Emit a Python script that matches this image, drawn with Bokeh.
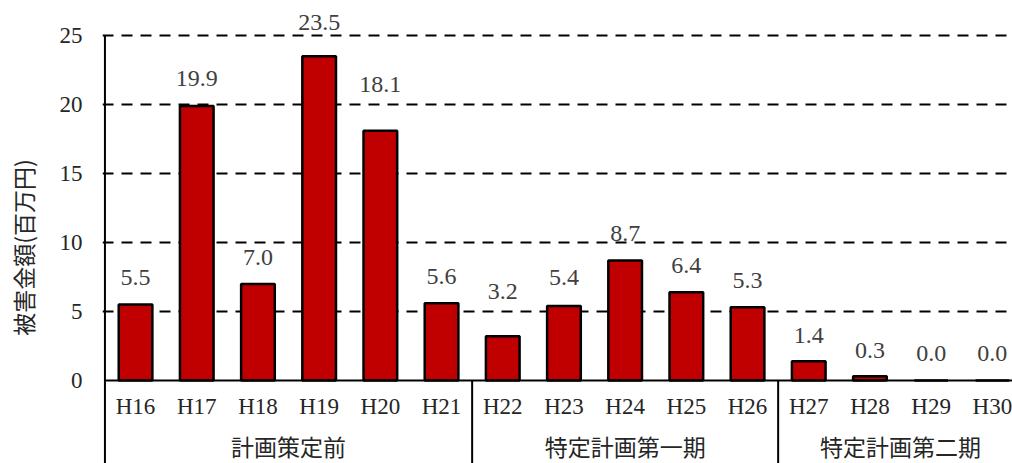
import math
from bokeh.plotting import figure
from bokeh.layouts import row
from bokeh.models import FixedTicker, Range1d, ColumnDataSource
from bokeh.core.properties import value
from bokeh.embed import file_html
from bokeh.resources import INLINE

# ---- data ----
years = ["H16", "H17", "H18", "H19", "H20", "H21", "H22", "H23", "H24", "H25",
         "H26", "H27", "H28", "H29", "H30"]
damage = [5.5, 19.9, 7.0, 23.5, 18.1, 5.6, 3.2, 5.4, 8.7, 6.4, 5.3, 1.4, 0.3, 0.0, 0.0]
groups = ["計画策定前", "特定計画第一期", "特定計画第二期"]
group_sizes = [6, 5, 4]
y_ticks = [0, 5, 10, 15, 20, 25]
y_label = "被害金額(百万円)"

# ---- layout / style ----
W, H = 1012, 463
title_w = 45             # width of the strip holding the y-axis title
title_cy = 247           # pixel row of the y-axis title centre
px_unit = 13.8           # pixels per million yen
cat_px = 61.2            # pixels per category
x_pad = 0.04             # categories of room left of the axis line
left_b = 102 - title_w
zero_px = 380            # pixel row of value 0
label_dy = [27, 27, 26, 34, 46, 27, 45, 28, 27, 27, 27, 26, 26, 27, 27]  # px above bar
main_w = W - title_w
frame_w = main_w - left_b
frame_h = H
y_end = zero_px / px_unit
y_start = y_end - frame_h / px_unit
x_start = -x_pad
x_end = x_start + frame_w / cat_px
cat_label_y = -1.92
group_label_y = -4.72

# ---- y-axis title strip ----
t = figure(width=title_w, height=H, output_backend="svg", toolbar_location=None,
           x_range=Range1d(0, title_w), y_range=Range1d(0, H),
           x_axis_location=None, y_axis_location=None,
           min_border_left=0, min_border_right=0, min_border_top=0, min_border_bottom=0)
t.outline_line_color = None
t.grid.visible = False
t.text(x=[title_w / 2], y=[H - title_cy], text=[y_label], angle=math.pi / 2,
       text_align="center", text_baseline="middle",
       text_font=value("Noto Sans CJK JP"), text_font_size="23px", text_color="#262626")

# ---- main chart ----
xs = [i + 0.5 for i in range(len(years))]
src = ColumnDataSource(dict(x=xs, y=damage, lab=[f"{v:.1f}" for v in damage],
                            yr=years, ly=[cat_label_y] * len(xs),
                            dy=[-d for d in label_dy]))

p = figure(width=main_w, height=H, output_backend="svg", toolbar_location=None,
           x_range=Range1d(x_start, x_end), y_range=Range1d(y_start, y_end),
           x_axis_location=None, min_border_left=left_b, min_border_top=0,
           min_border_right=0, min_border_bottom=0)
p.outline_line_color = None
p.background_fill_color = "white"
p.border_fill_color = "white"
p.xgrid.visible = False

p.ygrid.ticker = FixedTicker(ticks=[v for v in y_ticks if v > 0])
p.ygrid.grid_line_color = "black"
p.ygrid.grid_line_width = 2
p.ygrid.grid_line_dash = "11 8"

ax = p.yaxis[0]
ax.ticker = FixedTicker(ticks=y_ticks)
ax.major_tick_line_color = None
ax.minor_tick_line_color = None
ax.axis_line_color = None
ax.major_label_text_font = "Liberation Serif"
ax.major_label_text_font_size = "23px"
ax.major_label_text_color = "#262626"
ax.major_label_standoff = 14

# y axis line (from top tick down to bottom of chart)
p.segment(x0=[0], y0=[max(y_ticks)], x1=[0], y1=[y_start], line_color="black", line_width=2)

p.vbar(x="x", top="y", bottom=0, width=0.55, source=src,
       fill_color="#C00000", line_color="black", line_width=2.5)

# baseline
p.segment(x0=[0], y0=[0], x1=[x_end], y1=[0], line_color="black", line_width=2)

# group separators
bounds = []
acc = 0
for n in group_sizes[:-1]:
    acc += n
    bounds.append(acc)
p.segment(x0=bounds, y0=[0] * len(bounds), x1=bounds, y1=[y_start] * len(bounds),
          line_color="black", line_width=2)

# value labels
p.text(x="x", y="y", text="lab", source=src, text_align="center",
       text_baseline="middle", y_offset="dy",
       text_font=value("Liberation Serif"), text_font_size="24px", text_color="#404040")

# category labels
p.text(x="x", y="ly", text="yr", source=src, text_align="center",
       text_baseline="middle", text_font=value("Liberation Serif"),
       text_font_size="23px", text_color="#262626")

# group labels
gx = []
acc = 0
for n in group_sizes:
    gx.append(acc + n / 2)
    acc += n
p.text(x=gx, y=[group_label_y] * len(gx), text=groups, text_align="center",
       text_baseline="middle", text_font=value("Noto Sans CJK JP"),
       text_font_size="23px", text_color="#262626")

layout = row(t, p, spacing=0)
open("out.html", "w").write(file_html(layout, INLINE))
